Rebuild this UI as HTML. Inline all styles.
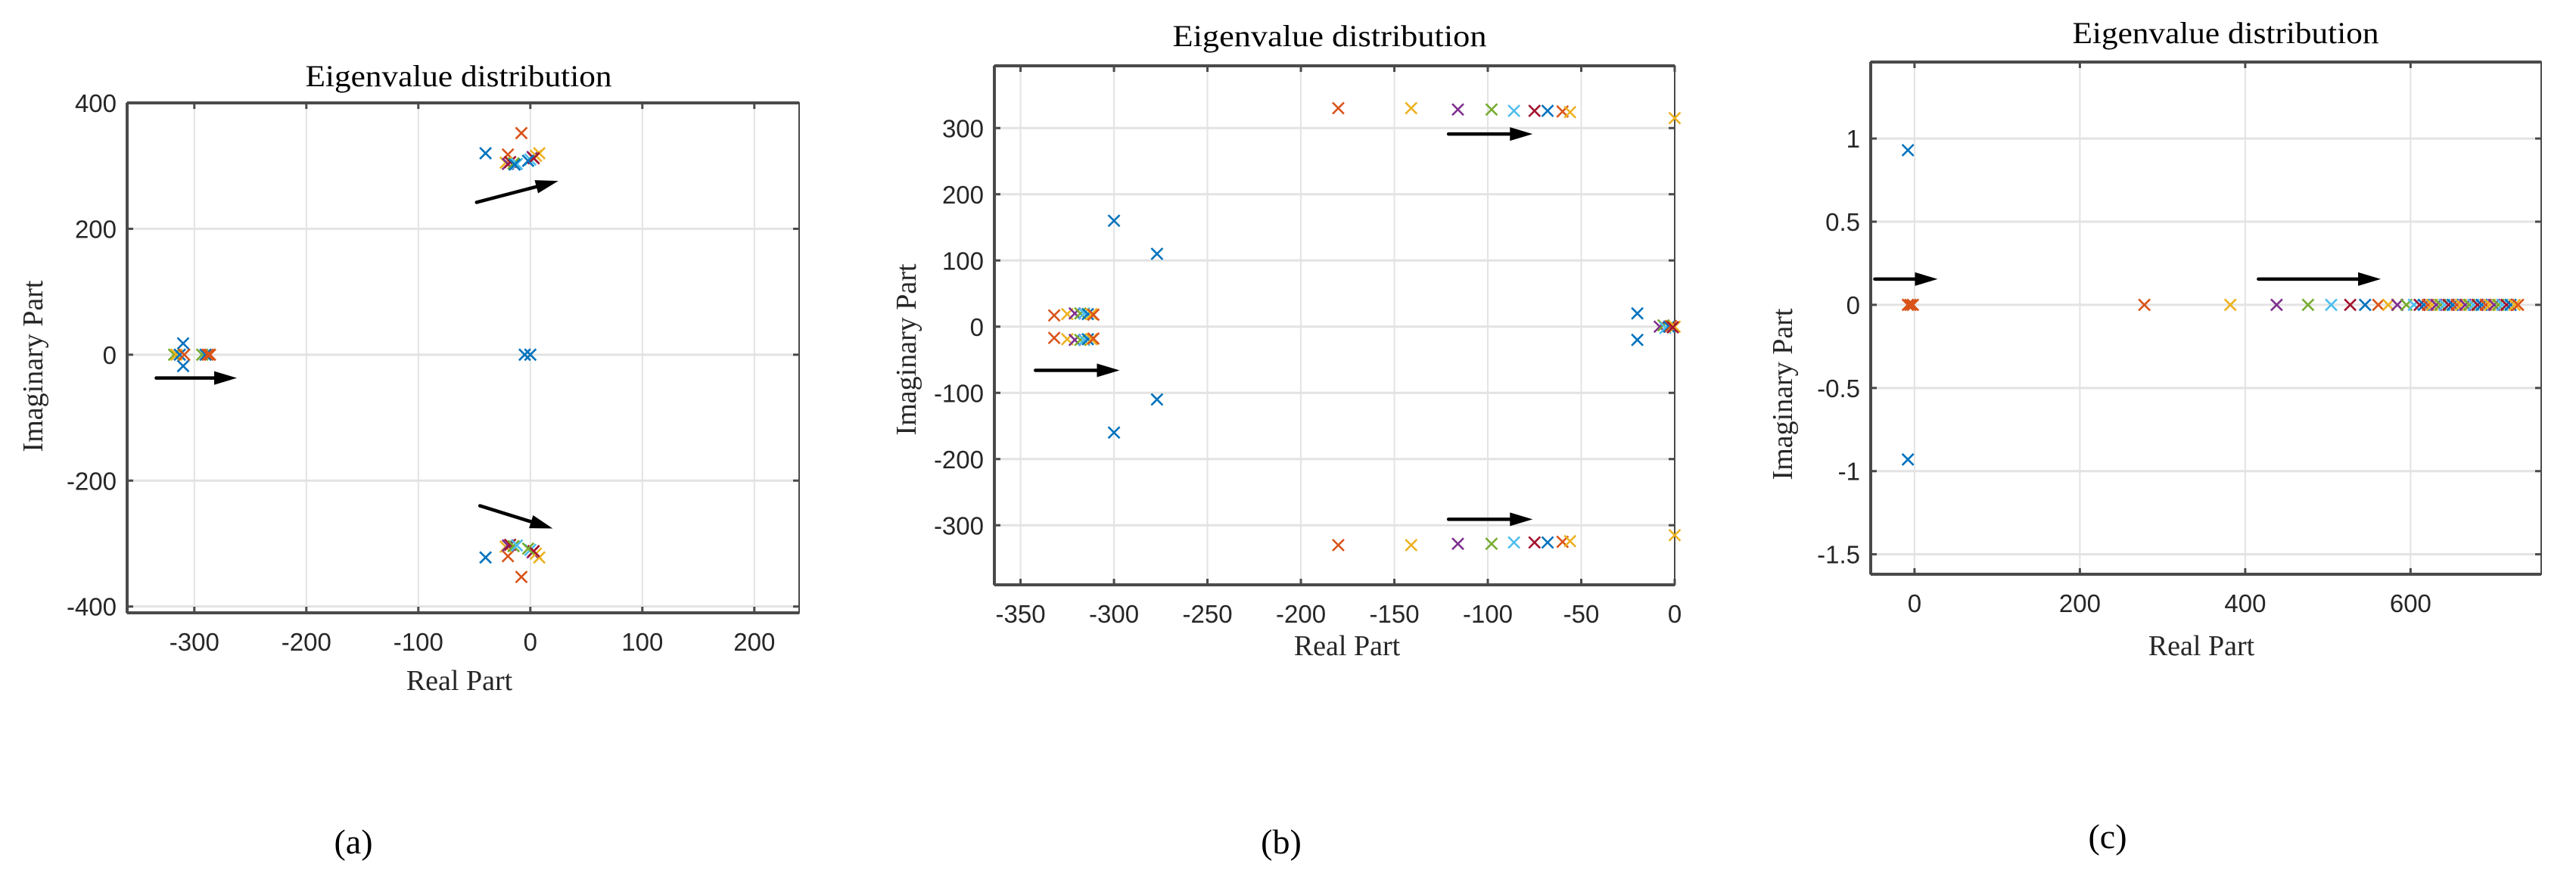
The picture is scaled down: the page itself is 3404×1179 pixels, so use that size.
<!DOCTYPE html>
<html><head><meta charset="utf-8"><style>
html,body{margin:0;padding:0;background:#fff;}
svg{display:block;}
</style></head><body>
<svg id="fig" width="3404" height="1179" viewBox="0 0 3404 1179" xmlns="http://www.w3.org/2000/svg">
<rect width="3404" height="1179" fill="#fff"/>
</svg>
<script>
// ---------- Panel (a) data ----------
const aXTicks = [-300, -200, -100, 0, 100, 200];
const aYTicks = [-400, -200, 0, 200, 400];
const aRe = [-40, -8, -20, -22, -20, -18, -15, -12, -14, 0, 2, 5, 8, 3, -2,
             -40, -8, -20, -22, -20, -18, -15, -12, 0, 2, 5, 8, 3, -2,
             -5, 0,
             -310, -310, -318, -316, -313, -309, -293, -290, -288, -286];
const aIm = [320, 352, 318, 305, 303, 306, 304, 303, 302, 310, 314, 316, 320, 312, 308,
             -322, -353, -320, -305, -303, -302, -304, -303, -310, -314, -316, -322, -312, -308,
             0, 0,
             18, -18, 0, 0, 0, 0, 0, 0, 0, 0];
const aColor = [0, 1, 1, 2, 3, 6, 4, 5, 0, 5, 3, 2, 2, 6, 0,
                0, 1, 1, 2, 3, 6, 4, 5, 5, 3, 2, 2, 6, 4,
                0, 0,
                0, 0, 4, 2, 0, 1, 4, 0, 1, 1];
const aArrowX0 = [-48, -45, -334];
const aArrowY0 = [242, -240, -37];
const aArrowX1 = [25, 20, -262];
const aArrowY1 = [276, -276, -37];

// ---------- Panel (b) data ----------
const bXTicks = [-350, -300, -250, -200, -150, -100, -50, 0];
const bYTicks = [-300, -200, -100, 0, 100, 200, 300];
const bRe = [-180, -141, -116, -98, -86, -75, -68, -60, -56,
             -180, -141, -116, -98, -86, -75, -68, -60, -56,
             0, 0,
             -300, -300, -277, -277,
             -332, -325, -321, -318, -316, -314, -312, -311,
             -332, -325, -321, -318, -316, -314, -312, -311,
             -20, -20, -8, -6, -5, -3, -2, 0, -1];
const bIm = [330, 330, 328, 328, 326, 326, 326, 325, 324,
             -330, -330, -328, -328, -326, -326, -326, -325, -324,
             315, -315,
             160, -160, 110, -110,
             17, 19, 20, 20, 20, 19, 19, 18,
             -17, -19, -20, -20, -20, -19, -19, -18,
             20, -20, 0, 2, -2, 0, 1, 0, -1];
const bColor = [1, 2, 3, 4, 5, 6, 0, 1, 2,
                1, 2, 3, 4, 5, 6, 0, 1, 2,
                2, 2,
                0, 0, 0, 0,
                1, 2, 3, 4, 5, 0, 2, 1,
                1, 2, 3, 4, 5, 0, 2, 1,
                0, 0, 3, 4, 5, 0, 1, 2, 6];
const bArrowX0 = [-121, -121, -342];
const bArrowY0 = [291, -291, -66];
const bArrowX1 = [-76, -76, -297];
const bArrowY1 = [291, -291, -66];

// ---------- Panel (c) data ----------
const cXTicks = [0, 200, 400, 600];
const cYTicks = [-1.5, -1, -0.5, 0, 0.5, 1];
const cYTickLabels = ["-1.5", "-1", "-0.5", "0", "0.5", "1"];
const cRe = [-8, -8, -8, -5, -2,
             278, 382, 438, 476, 504, 527, 545, 561, 573, 584, 595, 604,
             611, 616, 621, 626, 631, 636, 641, 646, 651, 656, 661, 666, 671, 676,
             681, 686, 691, 696, 701, 706, 711, 716, 721, 726, 730];
const cIm = [0.93, -0.93, 0, 0, 0,
             0, 0, 0, 0, 0, 0, 0, 0, 0, 0, 0, 0,
             0, 0, 0, 0, 0, 0, 0, 0, 0, 0, 0, 0, 0, 0,
             0, 0, 0, 0, 0, 0, 0, 0, 0, 0, 0];
const cColor = [0, 0, 1, 1, 1,
                1, 2, 3, 4, 5, 6, 0, 1, 2, 3, 4, 5,
                6, 0, 1, 2, 3, 4, 5, 6, 0, 1, 2, 3, 4, 5,
                6, 0, 1, 2, 3, 4, 5, 6, 0, 2, 1];
const cArrowX0 = [-48, 416];
const cArrowY0 = [0.155, 0.155];
const cArrowX1 = [28, 564];
const cArrowY1 = [0.155, 0.155];

// ---------- drawing ----------
const NS = "http://www.w3.org/2000/svg";
const svg = document.getElementById('fig');
const palette = ["#0072BD", "#D95319", "#EDB120", "#7E2F8E", "#77AC30", "#4DBEEE", "#A2142F"];

function mk(tag, attrs, parent) {
  const e = document.createElementNS(NS, tag);
  for (const k in attrs) e.setAttribute(k, attrs[k]);
  (parent || svg).appendChild(e);
  return e;
}

function panel(p) {
  const g = mk('g', {});
  
  
  const sx = v => p.L + (v - p.xmin) / (p.xmax - p.xmin) * (p.R - p.L);
  const sy = v => p.B - (v - p.ymin) / (p.ymax - p.ymin) * (p.B - p.T);

  // grid
  p.xt.forEach(v => {
    const l = mk('line', {x1: sx(v), x2: sx(v), y1: p.T, y2: p.B, stroke: '#e3e3e3', 'stroke-width': 2}, g);
    
    
  });
  p.yt.forEach(v => {
    const l = mk('line', {x1: p.L, x2: p.R, y1: sy(v), y2: sy(v), stroke: '#e3e3e3', 'stroke-width': 3}, g);
    
    
  });

  // frame
  const fr = mk('rect', {x: p.L, y: p.T, width: p.R - p.L, height: p.B - p.T, fill: 'none', stroke: '#4a4a4a', 'stroke-width': 2}, g);
  
  
  mk('line', {x1: p.L, x2: p.R, y1: p.T, y2: p.T, stroke: '#4a4a4a', 'stroke-width': 4}, g);
  mk('line', {x1: p.L, x2: p.R, y1: p.B, y2: p.B, stroke: '#4a4a4a', 'stroke-width': 4}, g);
  mk('line', {x1: p.L, x2: p.L, y1: p.T, y2: p.B, stroke: '#4a4a4a', 'stroke-width': 4}, g);

  // ticks + labels
  p.xt.forEach(v => {
    mk('line', {x1: sx(v), x2: sx(v), y1: p.B, y2: p.B - 8, stroke: '#4a4a4a', 'stroke-width': 3}, g);
    mk('line', {x1: sx(v), x2: sx(v), y1: p.T, y2: p.T + 8, stroke: '#4a4a4a', 'stroke-width': 3}, g);
    const t = mk('text', {x: sx(v), y: p.B + 50, 'text-anchor': 'middle', 'font-family': 'Liberation Sans, sans-serif', 'font-size': 33, fill: '#262626'}, g);
    t.textContent = String(v);
    
    
  });
  p.yt.forEach((v, i) => {
    mk('line', {x1: p.L, x2: p.L + 8, y1: sy(v), y2: sy(v), stroke: '#4a4a4a', 'stroke-width': 3}, g);
    mk('line', {x1: p.R, x2: p.R - 8, y1: sy(v), y2: sy(v), stroke: '#4a4a4a', 'stroke-width': 3}, g);
    const t = mk('text', {x: p.L - 14, y: sy(v) + 12, 'text-anchor': 'end', 'font-family': 'Liberation Sans, sans-serif', 'font-size': 33, fill: '#262626'}, g);
    t.textContent = p.ytl ? p.ytl[i] : String(v);
    
    
  });

  // markers
  p.re.forEach((v, i) => {
    const x = sx(v), y = sy(p.im[i]), h = 7.5;
    const m = mk('path', {d: `M${x-h},${y-h}L${x+h},${y+h}M${x-h},${y+h}L${x+h},${y-h}`, stroke: palette[p.col[i]], 'stroke-width': 2.6, fill: 'none'}, g);
    
    
  });

  // arrows
  p.ax0.forEach((v, i) => {
    const x0 = sx(v), y0 = sy(p.ay0[i]), x1 = sx(p.ax1[i]), y1 = sy(p.ay1[i]);
    const ang = Math.atan2(y1 - y0, x1 - x0), hl = 30, hw = 9;
    const bx = x1 - hl * Math.cos(ang), by = y1 - hl * Math.sin(ang);
    const ag = mk('g', {}, g);
    
    
    mk('line', {x1: x0, y1: y0, x2: bx, y2: by, stroke: '#000', 'stroke-width': 4.5, 'stroke-linecap': 'round'}, ag);
    const px = -Math.sin(ang) * hw, py = Math.cos(ang) * hw;
    mk('polygon', {points: `${x1},${y1} ${bx+px},${by+py} ${bx-px},${by-py}`, fill: '#000'}, ag);
  });

  // titles
  const tt = mk('text', {x: p.tx, y: p.ty, 'text-anchor': 'middle', 'font-family': 'Liberation Serif, serif', 'font-size': 40, fill: '#000', textLength: p.tw, lengthAdjust: 'spacingAndGlyphs'}, g);
  tt.textContent = 'Eigenvalue distribution';
  
  
  const xl = mk('text', {x: p.xlx, y: p.xly, 'text-anchor': 'middle', 'font-family': 'Liberation Serif, serif', 'font-size': 38, fill: '#262626'}, g);
  xl.textContent = 'Real Part';
  
  
  const yl = mk('text', {x: 0, y: 0, 'text-anchor': 'middle', 'font-family': 'Liberation Serif, serif', 'font-size': 38, fill: '#262626', transform: `translate(${p.ylx},${p.yly}) rotate(-90)`}, g);
  yl.textContent = 'Imaginary Part';
  
  
  const sl = mk('text', {x: p.slx, y: p.sly, 'text-anchor': 'middle', 'font-family': 'Liberation Serif, serif', 'font-size': 46, fill: '#000'}, g);
  sl.textContent = p.sub;
  
  
}

panel({name: 'panel-a', L: 168, R: 1056, T: 136, B: 810, xmin: -360, xmax: 240, ymin: -410, ymax: 400,
  xt: aXTicks, yt: aYTicks, re: aRe, im: aIm, col: aColor,
  ax0: aArrowX0, ay0: aArrowY0, ax1: aArrowX1, ay1: aArrowY1,
  tx: 606, ty: 114, tw: 405, xlx: 607, xly: 912, ylx: 56, yly: 484, slx: 467, sly: 1128, sub: '(a)'});
panel({name: 'panel-b', L: 1314, R: 2213, T: 87, B: 773, xmin: -364, xmax: 0, ymin: -390, ymax: 394,
  xt: bXTicks, yt: bYTicks, re: bRe, im: bIm, col: bColor,
  ax0: bArrowX0, ay0: bArrowY0, ax1: bArrowX1, ay1: bArrowY1,
  tx: 1757, ty: 61, tw: 415, xlx: 1780, xly: 866, ylx: 1210, yly: 462, slx: 1693, sly: 1128, sub: '(b)'});
panel({name: 'panel-c', L: 2472, R: 3358, T: 82, B: 759, xmin: -53, xmax: 758, ymin: -1.62, ymax: 1.46,
  xt: cXTicks, yt: cYTicks, ytl: cYTickLabels, re: cRe, im: cIm, col: cColor,
  ax0: cArrowX0, ay0: cArrowY0, ax1: cArrowX1, ay1: cArrowY1,
  tx: 2941, ty: 57, tw: 405, xlx: 2909, xly: 866, ylx: 2368, yly: 521, slx: 2785, sly: 1121, sub: '(c)'});
</script>
</body></html>
